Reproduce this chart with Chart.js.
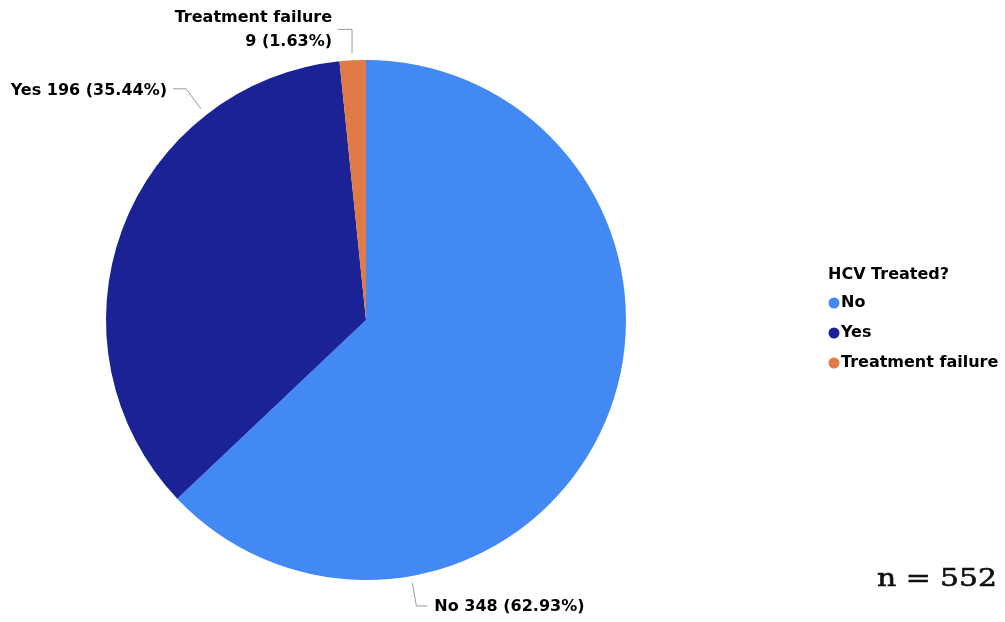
<!DOCTYPE html>
<html>
<head>
<meta charset="utf-8">
<script src="https://cdn.jsdelivr.net/npm/chart.js@4.4.0/dist/chart.umd.min.js"></script>
<style>
  html, body { margin: 0; padding: 0; background: #fff; overflow: hidden; }
  #wrap { position: relative; width: 1005px; height: 622px; }
</style>
</head>
<body>
<div id="wrap"><canvas id="pie-canvas" width="1005" height="622"></canvas></div>
<script>
/* Data */
const categories = ['No', 'Yes', 'Treatment failure'];
const counts = [348, 196, 9];
const percents = ['62.93%', '35.44%', '1.63%'];
const legendTitle = 'HCV Treated?';
const totalLabel = 'n = 552';
const colors = ['#4289f4', '#1a2295', '#e07a47'];

const FONT = 'bold 16px "DejaVu Sans", "Liberation Sans", sans-serif';
const LINE = '#9a9a9a';

// where each outside label sits: angle on the rim (deg clockwise from top)
// and the leader shape drawn from there
const labelSpots = [
  {deg: 170, out: 7, path: [[4, 23], [15, 23]], text: [22, 24], align: 'left'},     // No
  {deg: 322, out: 8, path: [[-15, -20], [-28, -20]], text: [-34, -18], align: 'right'}, // Yes
  {deg: 357, out: 7, path: [[0, -24], [-14, -24]], text: [-20, -24], align: 'right'}   // Treatment failure
];

function rim(arc, deg, r){
  const a = deg * Math.PI / 180;
  return [arc.x + r * Math.sin(a), arc.y - r * Math.cos(a)];
}

const extras = {
  id: 'extras',
  afterDraw: function(chart){
    const ctx = chart.ctx;
    const meta = chart.getDatasetMeta(0);
    ctx.save();

    // leader lines + labels
    meta.data.forEach(function(arc, i){
      const s = labelSpots[i];
      const p0 = rim(arc, s.deg, arc.outerRadius + s.out);
      ctx.strokeStyle = LINE;
      ctx.lineWidth = 1;
      ctx.beginPath();
      ctx.moveTo(p0[0], p0[1]);
      s.path.forEach(d => ctx.lineTo(p0[0] + d[0], p0[1] + d[1]));
      ctx.stroke();

      ctx.fillStyle = '#000';
      ctx.font = FONT;
      ctx.textAlign = s.align;
      ctx.textBaseline = 'middle';
      const tx = p0[0] + s.text[0], ty = p0[1] + s.text[1];
      if(i == 2){
        ctx.fillText(categories[i], tx, ty - 12);
        ctx.fillText(counts[i] + ' (' + percents[i] + ')', tx, ty + 12);
      } else {
        ctx.fillText(categories[i] + ' ' + counts[i] + ' (' + percents[i] + ')', tx, ty);
      }
    });

    // legend
    ctx.textAlign = 'left';
    ctx.textBaseline = 'middle';
    ctx.fillStyle = '#000';
    ctx.font = FONT;
    ctx.fillText(legendTitle, 828, 275);
    categories.forEach(function(c, i){
      const y = 303 + i * 30;
      ctx.fillStyle = colors[i];
      ctx.beginPath();
      ctx.arc(834, y, 5.5, 0, Math.PI * 2);
      ctx.fill();
      ctx.fillStyle = '#000';
      ctx.fillText(c, 841, y);
    });

    // sample size note
    ctx.font = '25px "DejaVu Serif", serif';
    const w = ctx.measureText(totalLabel).width;
    ctx.translate(877, 579);
    ctx.scale(120 / w, 1);
    ctx.fillStyle = '#111';
    ctx.strokeStyle = '#111';
    ctx.lineWidth = 0.6;
    ctx.fillText(totalLabel, 0, 0);
    ctx.strokeText(totalLabel, 0, 0);
    ctx.restore();
  }
};

const myChart = new Chart(document.getElementById('pie-canvas'), {
  type: 'pie',
  plugins: [extras],
  data: {
    labels: categories,
    datasets: [{
      data: counts,
      backgroundColor: colors,
      borderWidth: 0
    }]
  },
  options: {
    responsive: false,
    animation: false,
    layout: {
      padding: {left: 106, right: 379, top: 60, bottom: 42}
    },
    plugins: {
      legend: false,
      tooltip: {enabled: false}
    }
  }
});
</script>
</body>
</html>
